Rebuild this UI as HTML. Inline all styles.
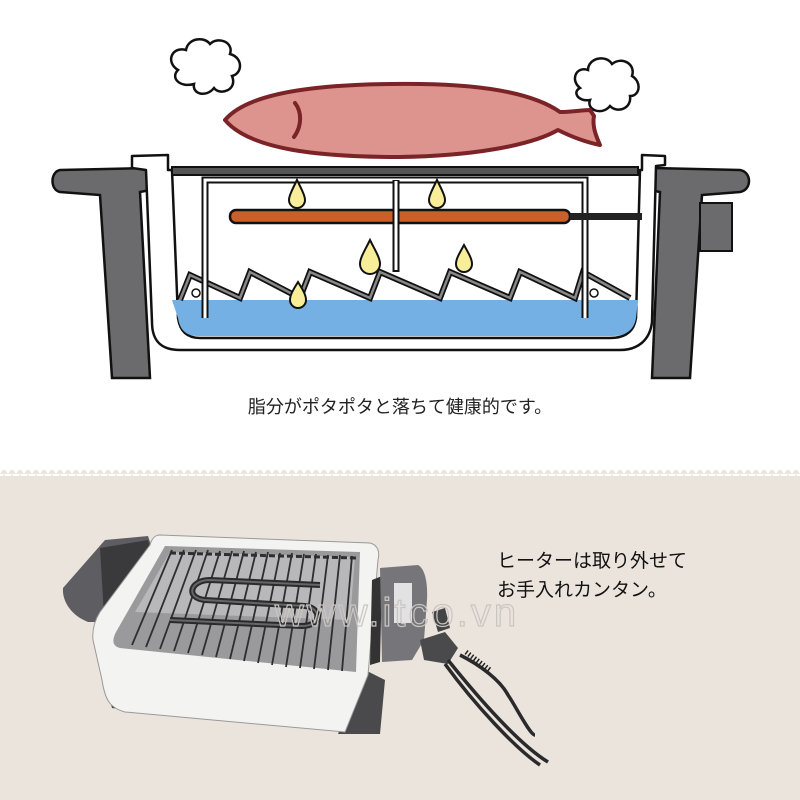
<!DOCTYPE html>
<html><head><meta charset="utf-8"><style>
html,body{margin:0;padding:0;width:800px;height:800px;overflow:hidden;background:#fff;}
svg{position:absolute;left:0;top:0}
.t{position:absolute;font-family:"Liberation Sans","Noto Sans CJK JP",sans-serif;color:#222;white-space:nowrap;line-height:1}
</style></head><body>
<svg width="800" height="800" viewBox="0 0 800 800">
<defs>
<pattern id="zz" width="8" height="6" patternUnits="userSpaceOnUse"><path d="M0 6 L4 0 L8 6 Z" fill="#ebe4dc"/></pattern>
</defs>
<rect x="0" y="476" width="800" height="324" fill="#ebe4dc"/>
<rect x="0" y="470" width="800" height="6" fill="url(#zz)"/>
<!-- clouds -->
<g fill="#fff" stroke="#111" stroke-width="2.5">
<path d="M178 70 C165 62 172 46 186 50 C188 38 204 36 210 44 C218 36 234 42 230 54 C244 58 242 74 232 76 C238 90 220 96 214 88 C206 98 192 94 194 84 C180 88 170 78 178 70 Z"/>
<path d="M580 88 C570 80 576 66 588 70 C588 58 606 54 612 64 C622 56 636 64 632 76 C642 82 640 96 630 96 C632 108 618 114 610 106 C602 116 586 110 590 100 C578 102 572 92 580 88 Z"/>
</g>
<!-- fish -->
<path d="M225 120 C250 90 330 83 420 84 C500 85 540 98 560 112 C572 112 582 110 590 110 L594 116 C592 126 596 136 600 145 C585 142 570 136 558 130 C530 146 470 156 400 157 C320 157 250 150 225 120 Z" fill="#dd948e" stroke="#7a2428" stroke-width="4" stroke-linejoin="round"/>
<path d="M295 103 C302 112 302 126 294 137" fill="none" stroke="#7a2428" stroke-width="4" stroke-linecap="round"/>
<!-- handles -->
<path d="M60 170 L148 168 L150 190 L140 192 L150 378 L112 378 L100 195 L60 192 C50 190 50 172 60 170 Z" fill="#6b6b6d" stroke="#111" stroke-width="2.5"/>
<path d="M652 168 L740 170 C752 172 752 190 740 192 L702 195 L690 378 L652 378 L660 192 L650 190 Z" fill="#6b6b6d" stroke="#111" stroke-width="2.5"/>
<rect x="700" y="203" width="32" height="48" fill="#6b6b6d" stroke="#111" stroke-width="2"/>
<!-- pot -->
<path d="M132 156 L168 155 L168 170 L172 170 L178 318 C180 332 188 338 200 338 L610 338 C625 338 634 332 636 318 L640 170 L642 170 L642 155 L665 156 L665 165 L656 166 L652 322 C650 340 638 350 620 350 L180 350 C160 350 152 340 152 322 L146 170 L132 168 Z" fill="#fff" stroke="#111" stroke-width="2.5" stroke-linejoin="round"/>
<rect x="172" y="167" width="466" height="8" fill="#555" stroke="#111" stroke-width="2"/>
<path d="M172 300 L638 300 L636 318 C634 330 626 336 612 336 L198 336 C186 336 180 330 178 318 Z" fill="#74b0e4"/>
<polyline points="180,300 190,275 240,298 250,272 300,298 310,272 370,298 380,272 440,298 450,272 510,298 520,272 575,298 583,272 630,298" fill="none" stroke="#111" stroke-width="6"/>
<polyline points="180,300 190,275 240,298 250,272 300,298 310,272 370,298 380,272 440,298 450,272 510,298 520,272 575,298 583,272 630,298" fill="none" stroke="#888" stroke-width="2.5"/>
<circle cx="196" cy="293" r="4" fill="#fff" stroke="#111" stroke-width="1.5"/>
<circle cx="594" cy="293" r="4" fill="#fff" stroke="#111" stroke-width="1.5"/>
<path d="M205 318 L205 180 L585 180 L585 318" fill="none" stroke="#111" stroke-width="7"/>
<path d="M205 318 L205 180 L585 180 L585 318" fill="none" stroke="#fff" stroke-width="3"/>
<rect x="230" y="210" width="340" height="13" rx="6" fill="#c9602c" stroke="#111" stroke-width="2.5"/>
<rect x="570" y="213" width="72" height="7" fill="#222"/>
<line x1="396" y1="180" x2="396" y2="272" stroke="#111" stroke-width="7"/>
<line x1="396" y1="181" x2="396" y2="270" stroke="#fff" stroke-width="3"/>
<g fill="#f8ee9a" stroke="#111" stroke-width="2">
<path d="M297 180 C302 190 305 196 305 200 A8 8 0 0 1 289 200 C289 196 292 190 297 180 Z"/>
<path d="M437 180 C442 190 445 196 445 200 A8 8 0 0 1 429 200 C429 196 432 190 437 180 Z"/>
<path d="M370 240 C376 252 380 258 380 264 A10 10 0 0 1 360 264 C360 258 364 252 370 240 Z"/>
<path d="M464 245 C469 254 472 259 472 264 A8 8 0 0 1 456 264 C456 259 459 254 464 245 Z"/>
<path d="M298 282 C303 290 306 295 306 300 A8 8 0 0 1 290 300 C290 295 293 290 298 282 Z"/>
</g>

<!-- product photo approximation -->
<!-- left handle -->
<path d="M63 588 L105 540 L148 536 L152 548 L108 622 L88 622 C70 615 62 600 63 588 Z" fill="#5e5e62"/>
<path d="M100 548 L148 540 L150 548 L104 616 Z" fill="#3a3a3c"/>
<!-- dark bases -->
<path d="M93 640 L112 708 L130 710 L120 650 Z" fill="#3c3c3e"/>
<path d="M338 734 L380 734 L385 680 L365 670 Z" fill="#4a4a4c"/>
<!-- white body -->
<path d="M160 535 L370 543 C378 545 380 552 378 560 L368 675 L345 732 L125 712 C110 708 105 700 102 680 L93 640 C92 630 95 620 100 612 L150 545 C152 538 155 535 160 535 Z" fill="#f3f3f1" stroke="#999" stroke-width="1"/>
<!-- inner grill area -->
<path d="M165 546 L360 552 L356 672 L120 648 C112 646 112 640 116 632 Z" fill="#9a9a9c"/>
<path d="M170 552 L355 557 L350 620 L135 612 Z" fill="#b8b8ba"/>
<g stroke="#2e2e30" stroke-width="1.8">
<line x1="172" y1="550" x2="132" y2="645"/><line x1="184" y1="550" x2="146" y2="647"/><line x1="196" y1="550" x2="160" y2="649"/><line x1="208" y1="550" x2="174" y2="651"/><line x1="220" y1="551" x2="188" y2="653"/><line x1="232" y1="551" x2="202" y2="655"/><line x1="244" y1="551" x2="216" y2="657"/><line x1="256" y1="552" x2="230" y2="659"/><line x1="268" y1="552" x2="244" y2="661"/><line x1="280" y1="553" x2="258" y2="663"/><line x1="292" y1="553" x2="272" y2="665"/><line x1="304" y1="554" x2="286" y2="667"/><line x1="316" y1="554" x2="300" y2="668"/><line x1="328" y1="555" x2="314" y2="669"/><line x1="340" y1="555" x2="328" y2="670"/><line x1="352" y1="556" x2="342" y2="671"/>
</g>
<line x1="170" y1="553" x2="356" y2="558" stroke="#2e2e30" stroke-width="3" stroke-dasharray="6 3"/>
<path d="M320 585 L210 580 C190 580 185 598 205 600 L305 606 C322 608 322 626 302 626 L170 620" fill="none" stroke="#2a2a2c" stroke-width="6"/>
<path d="M320 585 L210 580 C190 580 185 598 205 600 L305 606 C322 608 322 626 302 626 L170 620" fill="none" stroke="#666" stroke-width="2"/>
<!-- control box -->
<path d="M372 580 L382 576 L380 662 L370 665 Z" fill="#333"/>
<path d="M380 568 L418 565 C424 568 428 580 427 600 L424 640 L412 660 L382 662 Z" fill="#76767a"/>
<rect x="394" y="583" width="18" height="40" fill="#e2e2e4"/>
<path d="M420 640 L445 632 L458 648 L448 664 L424 660 Z" fill="#4a4a4c"/>
<path d="M432 612 L445 608 L450 628 L438 632 Z" fill="#444"/>
<!-- cord -->
<path d="M448 660 C480 700 520 745 548 762 M445 664 C475 705 515 748 540 765 M460 655 C480 665 500 680 508 695 C515 705 530 735 535 735" fill="none" stroke="#2a2a2c" stroke-width="3.5"/>
<line x1="466" y1="652" x2="490" y2="670" stroke="#222" stroke-width="5" stroke-dasharray="1.5 2"/>
<text x="397" y="626" font-family="Liberation Sans" font-size="40" letter-spacing="3" fill="none" stroke="#c9c5c1" stroke-width="1.2" text-anchor="middle">www.itco.vn</text>
</svg>
<div class="t" style="left:0;width:800px;text-align:center;top:398px;font-size:18px">脂分がポタポタと落ちて健康的です。</div>
<div class="t" style="left:497px;top:552px;font-size:19px;color:#111">ヒーターは取り外せて</div>
<div class="t" style="left:497px;top:581px;font-size:19px;color:#111">お手入れカンタン。</div>
</body></html>
